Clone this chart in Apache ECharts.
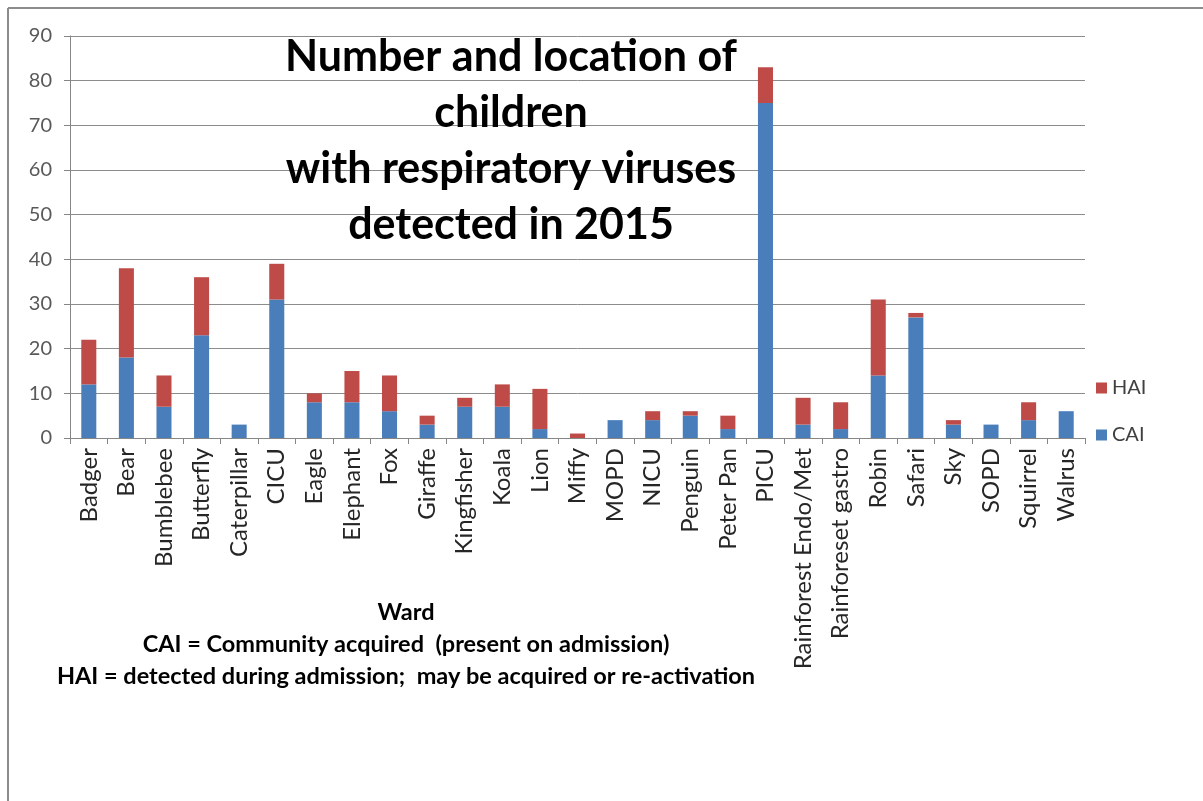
<!DOCTYPE html>
<html>
<head>
<meta charset="utf-8">
<script src="https://cdn.jsdelivr.net/npm/echarts@6/dist/echarts.min.js"></script>
<style>
  html, body { margin: 0; padding: 0; background: #ffffff; }
  #chart { width: 1203px; height: 801px; }
</style>
</head>
<body>
<div id="chart"></div>
<script>
// Wards on the category axis
const wards = ['Badger', 'Bear', 'Bumblebee', 'Butterfly', 'Caterpillar', 'CICU', 'Eagle',
  'Elephant', 'Fox', 'Giraffe', 'Kingfisher', 'Koala', 'Lion', 'Miffy', 'MOPD', 'NICU',
  'Penguin', 'Peter Pan', 'PICU', 'Rainforest Endo/Met', 'Rainforeset gastro', 'Robin',
  'Safari', 'Sky', 'SOPD', 'Squirrel', 'Walrus'];

// Community acquired (present on admission)
const cai = [12, 18, 7, 23, 3, 31, 8, 8, 6, 3, 7, 7, 2, 0, 4, 4, 5, 2, 75, 3, 2, 14, 27, 3, 3, 4, 6];

// Detected during admission
const hai = [10, 20, 7, 13, 0, 8, 2, 7, 8, 2, 2, 5, 9, 1, 0, 2, 1, 3, 8, 6, 6, 17, 1, 1, 0, 4, 0];

// Value axis ticks
const yMin = 0;
const yMax = 90;
const yStep = 10;

const titleLines = ['Number and location of', 'children', 'with respiratory viruses', 'detected in 2015'];
const noteLines = ['Ward', 'CAI = Community acquired  (present on admission)',
  'HAI = detected during admission;  may be acquired or re-activation'];

const FONT = 'Lato, "Open Sans", sans-serif';
const BLUE = '#4a7ebb';
const RED = '#be4b48';

const chart = echarts.init(document.getElementById('chart'), null, { renderer: 'canvas' });

chart.setOption({
  backgroundColor: '#ffffff',
  animation: false,
  title: [
    {
      text: titleLines.join('\n'),
      left: 506,
      top: 24,
      textAlign: 'center',
      textStyle: {
        fontFamily: FONT,
        fontWeight: 'bold',
        fontSize: 43,
        lineHeight: 56,
        color: '#000000'
      }
    },
    {
      text: noteLines.join('\n'),
      left: 401,
      top: 591,
      textAlign: 'center',
      textStyle: {
        fontFamily: FONT,
        fontWeight: 'bold',
        fontSize: 23.5,
        lineHeight: 32,
        color: '#000000'
      }
    }
  ],
  legend: {
    orient: 'vertical',
    left: 1091,
    top: 373,
    itemWidth: 11,
    itemHeight: 11,
    itemGap: 27,
    icon: 'rect',
    data: ['HAI', 'CAI'],
    textStyle: { fontFamily: FONT, fontSize: 20, color: '#404040', lineHeight: 20 }
  },
  grid: { left: 70, right: 118, top: 36, bottom: 363 },
  xAxis: {
    type: 'category',
    data: wards,
    axisLine: { show: true, lineStyle: { color: '#868686', width: 1 } },
    axisTick: { show: true, length: 6, alignWithLabel: false, lineStyle: { color: '#868686' } },
    axisLabel: {
      interval: 0,
      rotate: 90,
      margin: 10,
      fontFamily: FONT,
      fontSize: 24,
      color: '#262626'
    }
  },
  yAxis: {
    type: 'value',
    min: yMin,
    max: yMax,
    interval: yStep,
    axisLine: { show: true, lineStyle: { color: '#868686', width: 1 } },
    axisTick: { show: true, length: 6, lineStyle: { color: '#868686' } },
    axisLabel: { margin: 18, fontFamily: FONT, fontSize: 20, color: '#595959' },
    splitLine: { show: true, lineStyle: { color: '#8c8c8c', width: 1 } }
  },
  series: [
    {
      name: 'CAI',
      type: 'bar',
      stack: 'total',
      data: cai,
      barWidth: '40%',
      itemStyle: { color: BLUE }
    },
    {
      name: 'HAI',
      type: 'bar',
      stack: 'total',
      data: hai,
      barWidth: '40%',
      itemStyle: { color: RED }
    }
  ],
  graphic: [
    { type: 'line', shape: { x1: 8, y1: 8, x2: 1203, y2: 8 }, style: { stroke: '#8c8c8c', lineWidth: 2 } },
    { type: 'line', shape: { x1: 8, y1: 8, x2: 8, y2: 801 }, style: { stroke: '#8c8c8c', lineWidth: 2 } }
  ]
});
</script>
</body>
</html>
